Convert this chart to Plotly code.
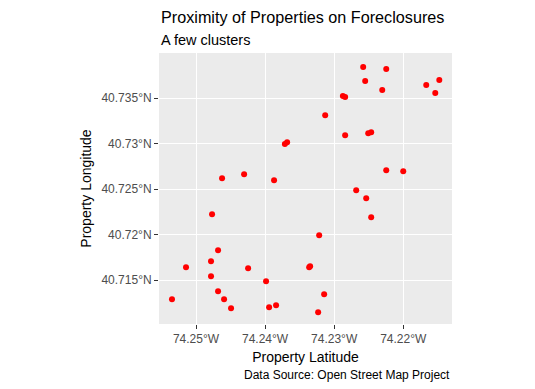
import plotly.graph_objects as go

# Property coordinates (longitude, latitude)
lon = [-74.24623, -74.24304, -74.23870, -74.23714, -74.23681, -74.22580, -74.22246,
       -74.22551, -74.22304, -74.21667, -74.21478, -74.21536, -74.22874, -74.22841,
       -74.23130, -74.22841, -74.22507, -74.22464, -74.22246, -74.22000, -74.22681,
       -74.22536, -74.22464, -74.23217, -74.23362, -74.23348, -74.23145, -74.23232,
       -74.24768, -74.24681, -74.24783, -74.25145, -74.24246, -74.24783, -74.23986,
       -74.24681, -74.25348, -74.24594, -74.24493, -74.23942, -74.23841]
lat = [40.72621, 40.72665, 40.72599, 40.72995, 40.73016, 40.73841, 40.73819,
       40.73687, 40.73588, 40.73643, 40.73698, 40.73555, 40.73522, 40.73511,
       40.73313, 40.73093, 40.73115, 40.73126, 40.72709, 40.72698, 40.72489,
       40.72401, 40.72192, 40.71994, 40.71643, 40.71654, 40.71346, 40.71148,
       40.72225, 40.71830, 40.71709, 40.71643, 40.71632, 40.71544, 40.71489,
       40.71379, 40.71291, 40.71291, 40.71192, 40.71203, 40.71225]

x_tickvals = [-74.25, -74.24, -74.23, -74.22]
x_ticktext = ["74.25°W", "74.24°W", "74.23°W", "74.22°W"]
y_tickvals = [40.715, 40.72, 40.725, 40.73, 40.735]
y_ticktext = ["40.715°N", "40.72°N", "40.725°N", "40.73°N", "40.735°N"]

FONT = "Liberation Sans, Arial, sans-serif"
W, H = 535, 389
L, R, T, B = 159, 83, 53, 65

fig = go.Figure()
fig.add_trace(go.Scatter(
    x=lon, y=lat, mode="markers",
    marker=dict(color="#FF0000", size=6, line=dict(width=0)),
    hoverinfo="x+y", showlegend=False,
))

fig.update_layout(
    width=W, height=H,
    margin=dict(l=L, r=R, t=T, b=B, pad=0, autoexpand=False),
    paper_bgcolor="white",
    plot_bgcolor="#EBEBEB",
    font=dict(family=FONT, color="black"),
    xaxis=dict(
        range=[-74.25536, -74.21294], automargin=False,
        tickvals=x_tickvals, ticktext=x_ticktext,
        showgrid=True, gridcolor="white", gridwidth=1,
        zeroline=False, showline=False,
        ticks="outside", ticklen=4, tickwidth=1, tickcolor="#333333",
        tickfont=dict(size=12, color="#4D4D4D", family=FONT),
        title=dict(text="Property Latitude", font=dict(size=14, color="black", family=FONT), standoff=6),
    ),
    yaxis=dict(
        range=[40.7102, 40.73995], automargin=False,
        tickvals=y_tickvals, ticktext=y_ticktext,
        showgrid=True, gridcolor="white", gridwidth=1,
        zeroline=False, showline=False,
        ticks="outside", ticklen=4, tickwidth=1, tickcolor="#333333",
        tickfont=dict(size=12, color="#4D4D4D", family=FONT),
        title=dict(text="Property Longitude", font=dict(size=14, color="black", family=FONT), standoff=6),
    ),
    annotations=[
        dict(text="Proximity of Properties on Foreclosures", xref="paper", yref="paper",
             x=0, y=1 + (T - 17) / (H - T - B), xanchor="left", yanchor="middle",
             showarrow=False, font=dict(size=16.2, color="black", family=FONT)),
        dict(text="A few clusters", xref="paper", yref="paper",
             x=0, y=1 + (T - 40) / (H - T - B), xanchor="left", yanchor="middle",
             showarrow=False, font=dict(size=14.5, color="black", family=FONT)),
        dict(text="Data Source: Open Street Map Project", xref="paper", yref="paper",
             x=1, y=-(375 - (H - B)) / (H - T - B), xanchor="right", yanchor="middle",
             showarrow=False, font=dict(size=12, color="black", family=FONT)),
    ],
)

fig.write_html("out.html",
               config={"displayModeBar": False},
               post_script="document.body.style.margin='0';document.body.style.padding='0';")
